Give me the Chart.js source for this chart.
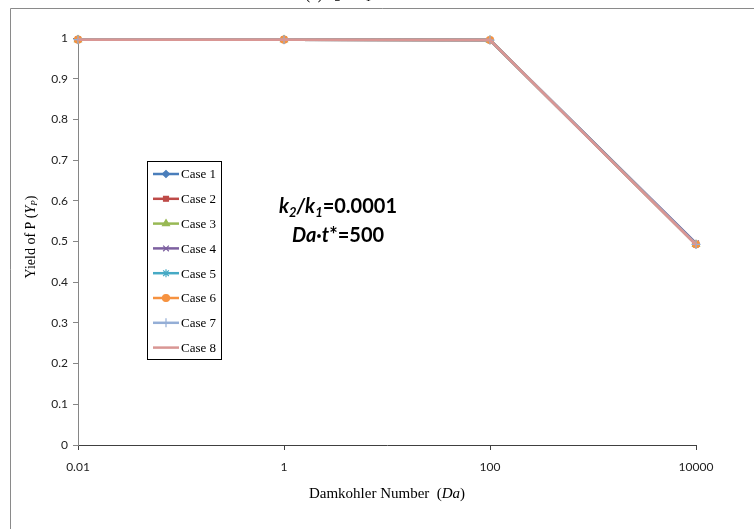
<!DOCTYPE html>
<html>
<head>
<meta charset="utf-8">
<script src="https://cdn.jsdelivr.net/npm/chart.js@4.4.1/dist/chart.umd.min.js"></script>
<style>
    body { margin: 0; background: #fff; }
    #wrap { width: 754px; height: 529px; }
</style>
</head>
<body>
<div id="wrap">
    <canvas id="yieldChart" width="754" height="529"></canvas>
</div>
<script>
// Damkohler numbers on the (log) x axis
const damkohler = [0.01, 1, 100, 10000];
const xTickValues = [0.01, 1, 100, 10000];
const xTickLabels = ["0.01", "1", "100", "10000"];

// yield of P for each case
const case1 = [0.996, 0.996, 0.995, 0.493];
const case2 = [0.996, 0.996, 0.995, 0.493];
const case3 = [0.996, 0.996, 0.995, 0.493];
const case4 = [0.996, 0.996, 0.995, 0.496];
const case5 = [0.996, 0.996, 0.995, 0.494];
const case6 = [0.996, 0.996, 0.995, 0.493];
const case7 = [0.996, 0.996, 0.995, 0.493];
const case8 = [0.996, 0.996, 0.995, 0.492];

const caseNames = ["Case 1", "Case 2", "Case 3", "Case 4", "Case 5", "Case 6", "Case 7", "Case 8"];
const caseValues = [case1, case2, case3, case4, case5, case6, case7, case8];
const caseColors = ["#4a7ebb", "#be4b48", "#98b954", "#7d60a0", "#46aac5", "#f69240", "#94aed6", "#d99694"];
const caseMarkers = ["rectRot", "rect", "triangle", "crossRot", "star", "circle", "cross", false];
const caseMarkerSizes = [3.5, 3.5, 4, 4, 4, 3.5, 4.5, 0];

const SANS = "Lato, 'Open Sans', sans-serif";
const SERIF = "'Liberation Serif', 'DejaVu Serif', serif";

// draw a row of text pieces with their own fonts, centred on x
function drawRuns(ctx, runs, x, y) {
    let total = 0;
    runs.forEach((r) => {
        ctx.font = r.font;
        r.w = ctx.measureText(r.text).width;
        total += r.w;
    });
    let cx = x - total / 2;
    runs.forEach((r) => {
        ctx.font = r.font;
        ctx.fillText(r.text, cx, y + (r.dy || 0));
        cx += r.w;
    });
}

const decorations = {
    id: "decorations",
    beforeDraw(chart) {
        const ctx = chart.ctx;
        ctx.save();
        ctx.fillStyle = "#fff";
        ctx.fillRect(0, 0, chart.width, chart.height);
        // chart frame, cut by the page edge on the right and bottom
        ctx.strokeStyle = "#8a8a8a";
        ctx.lineWidth = 1;
        ctx.beginPath();
        ctx.moveTo(10.5, chart.height + 5);
        ctx.lineTo(10.5, 8.5);
        ctx.lineTo(chart.width + 5, 8.5);
        ctx.stroke();
        ctx.restore();
    },
    afterDraw(chart) {
        const ctx = chart.ctx;
        ctx.save();
        ctx.fillStyle = "#000";
        ctx.textBaseline = "alphabetic";

        // heading above the frame (mostly off the top of the page)
        drawRuns(ctx, [
            { text: "(a) k", font: "16px " + SERIF },
            { text: "2", font: "11px " + SERIF, dy: 2 },
            { text: " = k", font: "16px " + SERIF },
            { text: "1", font: "11px " + SERIF, dy: 2 },
        ], 338, -1);

        // axis titles
        drawRuns(ctx, [
            { text: "Damkohler Number  (", font: "15px " + SERIF },
            { text: "Da", font: "italic 15px " + SERIF },
            { text: ")", font: "15px " + SERIF },
        ], 387, 498);

        ctx.save();
        ctx.translate(35, 237);
        ctx.rotate(-Math.PI / 2);
        drawRuns(ctx, [
            { text: "Yield of P (", font: "14px " + SERIF },
            { text: "Y", font: "italic 14px " + SERIF },
            { text: "P", font: "italic 9px " + SERIF, dy: 2 },
            { text: ")", font: "14px " + SERIF },
        ], 0, 0);
        ctx.restore();

        // parameter note
        const big = "bold 20px " + SANS;
        const bigIt = "italic bold 20px " + SANS;
        const sub = "italic bold 13px " + SANS;
        drawRuns(ctx, [
            { text: "k", font: bigIt },
            { text: "2", font: sub, dy: 4 },
            { text: "/", font: bigIt },
            { text: "k", font: bigIt },
            { text: "1", font: sub, dy: 4 },
            { text: "=0.0001", font: big },
        ], 338, 213);
        drawRuns(ctx, [
            { text: "Da", font: bigIt },
            { text: "·", font: big },
            { text: "t", font: bigIt },
            { text: "*=500", font: big },
        ], 338, 242);

        // legend box
        const lx = 147, ly = 161, lw = 74, lh = 198;
        ctx.strokeStyle = "#000";
        ctx.lineWidth = 1;
        ctx.strokeRect(lx + 0.5, ly + 0.5, lw, lh);
        chart.data.datasets.forEach((ds, i) => {
            const ry = 174 + i * 24.8;
            ctx.strokeStyle = ds.borderColor;
            ctx.lineWidth = 2.5;
            ctx.beginPath();
            ctx.moveTo(153, ry);
            ctx.lineTo(179, ry);
            ctx.stroke();
            if (ds.pointStyle) {
                ctx.fillStyle = ds.backgroundColor;
                ctx.strokeStyle = ds.borderColor;
                ctx.lineWidth = 1.2;
                Chart.helpers.drawPoint(ctx, {
                    pointStyle: ds.pointStyle,
                    radius: ds.pointRadius,
                    borderWidth: 1.2,
                    rotation: 0,
                }, 166, ry);
            }
            ctx.fillStyle = "#000";
            ctx.font = "13px " + SERIF;
            ctx.textBaseline = "middle";
            ctx.fillText(ds.label, 181, ry + 1);
        });
        ctx.restore();
    },
};

const datasets = caseNames.map((name, i) => ({
    label: name,
    data: damkohler.map((x, j) => ({ x: x, y: caseValues[i][j] })),
    borderColor: caseColors[i],
    backgroundColor: caseColors[i],
    borderWidth: 2.5,
    pointStyle: caseMarkers[i],
    pointRadius: caseMarkerSizes[i],
    pointBorderWidth: 1.2,
    tension: 0,
    clip: false,
    order: 8 - i,
}));

new Chart(document.getElementById("yieldChart").getContext("2d"), {
    type: "line",
    data: { datasets: datasets },
    plugins: [decorations],
    options: {
        responsive: false,
        animation: false,
        layout: { padding: { left: 0, right: 58, top: 38, bottom: 0 } },
        plugins: {
            legend: { display: false },
            tooltip: { enabled: false },
        },
        scales: {
            x: {
                type: "logarithmic",
                min: 0.01,
                max: 10000,
                afterBuildTicks: (scale) => {
                    scale.ticks = xTickValues.map((v) => ({ value: v }));
                },
                afterFit: (scale) => {
                    scale.height = 84;
                },
                ticks: {
                    autoSkip: false,
                    maxRotation: 0,
                    padding: 10,
                    color: "#222",
                    font: { family: SANS, size: 12 },
                    callback: (v) => xTickLabels[xTickValues.indexOf(v)],
                },
                grid: { drawOnChartArea: false, drawTicks: true, tickLength: 5, color: "#404040" },
                border: { display: true, color: "#404040", width: 1 },
            },
            y: {
                type: "linear",
                min: 0,
                max: 1,
                afterFit: (scale) => {
                    scale.width = 78;
                },
                ticks: {
                    stepSize: 0.1,
                    padding: 5,
                    color: "#222",
                    font: { family: SANS, size: 12 },
                    callback: (v) => String(+v.toFixed(1)),
                },
                grid: { drawOnChartArea: false, drawTicks: true, tickLength: 5, color: "#868686" },
                border: { display: true, color: "#868686", width: 1 },
            },
        },
    },
});
</script>
</body>
</html>
